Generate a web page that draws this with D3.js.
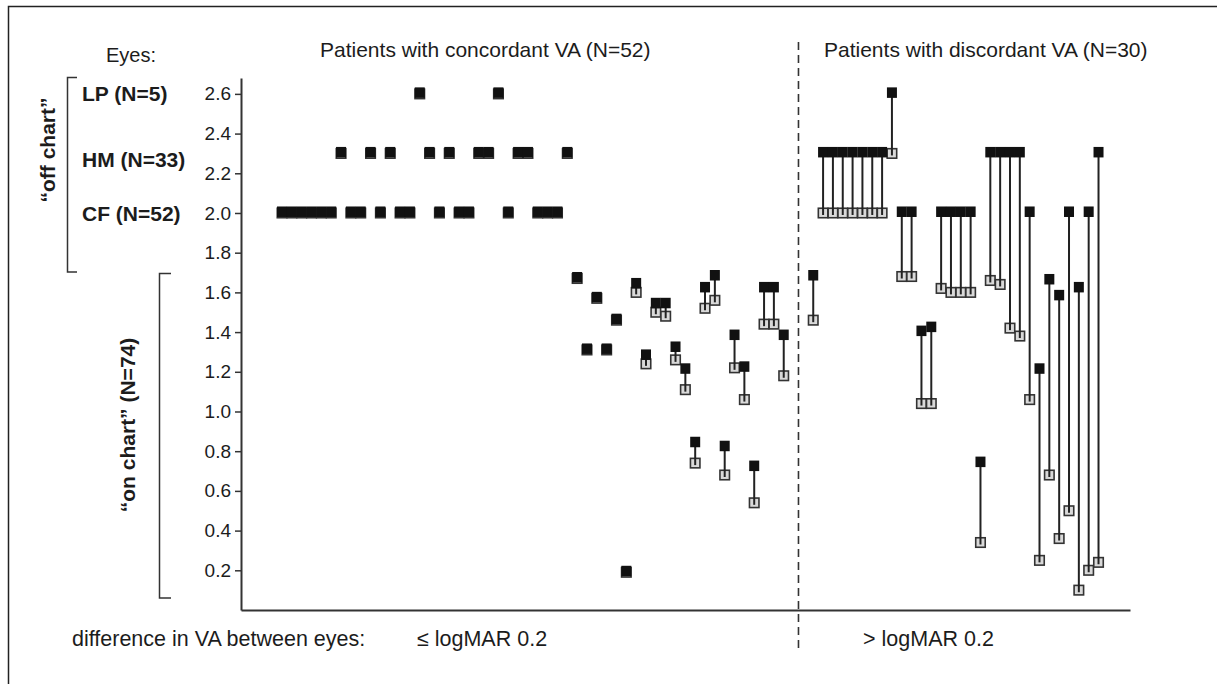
<!DOCTYPE html>
<html>
<head>
<meta charset="utf-8">
<script src="https://cdn.jsdelivr.net/npm/d3@7"></script>
<style>
  body { margin: 0; background: #fff; }
  svg { display: block; font-family: "Liberation Sans", Arial, sans-serif; }
</style>
</head>
<body>
<script>
// worse eye (black) and better eye (open) logMAR for each patient, left to right
const concordantWorse = [
    2.0, 2.0, 2.0, 2.0, 2.0, 2.0, 2.3, 2.0, 2.0, 2.3,
    2.0, 2.3, 2.0, 2.0, 2.6, 2.3, 2.0, 2.3, 2.0, 2.0,
    2.3, 2.3, 2.6, 2.0, 2.3, 2.3, 2.0, 2.0, 2.0, 2.3,
    1.67, 1.31, 1.57, 1.31, 1.46, 0.19, 1.64, 1.28, 1.54, 1.54,
    1.32, 1.21, 0.84, 1.62, 1.68, 0.82, 1.38, 1.22, 0.72, 1.62,
    1.62, 1.38
];
const concordantBetter = [
    2.0, 2.0, 2.0, 2.0, 2.0, 2.0, 2.3, 2.0, 2.0, 2.3,
    2.0, 2.3, 2.0, 2.0, 2.6, 2.3, 2.0, 2.3, 2.0, 2.0,
    2.3, 2.3, 2.6, 2.0, 2.3, 2.3, 2.0, 2.0, 2.0, 2.3,
    1.67, 1.31, 1.57, 1.31, 1.46, 0.19, 1.60, 1.24, 1.50, 1.48,
    1.26, 1.11, 0.74, 1.52, 1.56, 0.68, 1.22, 1.06, 0.54, 1.44,
    1.44, 1.18
];
const discordantWorse = [
    1.68, 2.3, 2.3, 2.3, 2.3, 2.3, 2.3, 2.3, 2.6, 2.0,
    2.0, 1.40, 1.42, 2.0, 2.0, 2.0, 2.0, 0.74, 2.3, 2.3,
    2.3, 2.3, 2.0, 1.21, 1.66, 1.58, 2.0, 1.62, 2.0, 2.3
];
const discordantBetter = [
    1.46, 2.0, 2.0, 2.0, 2.0, 2.0, 2.0, 2.0, 2.3, 1.68,
    1.68, 1.04, 1.04, 1.62, 1.60, 1.60, 1.60, 0.34, 1.66, 1.64,
    1.42, 1.38, 1.06, 0.25, 0.68, 0.36, 0.50, 0.10, 0.20, 0.24
];
const yTicks = [0.2, 0.4, 0.6, 0.8, 1.0, 1.2, 1.4, 1.6, 1.8, 2.0, 2.2, 2.4, 2.6];
const offChartRows = [
    { label: "LP (N=5)", value: 2.6 },
    { label: "HM (N=33)", value: 2.3 },
    { label: "CF (N=52)", value: 2.0 }
];
const gapSlots = 2;

const width = 1217, height = 684;
const ink = "#1c1c1c";

const svg = d3.select("body").append("svg")
    .attr("width", width)
    .attr("height", height);

// one slot per patient, two empty slots between the groups
const x = d3.scaleLinear().domain([-4.17, 86.2]).range([241, 1130]);
const y = d3.scaleLinear().domain([0, 2.68]).range([610, 78]);

const patients = [];
concordantWorse.forEach((w, i) => patients.push({ slot: i, worse: w, better: concordantBetter[i] }));
const discStart = concordantWorse.length + gapSlots;
discordantWorse.forEach((w, i) => patients.push({ slot: discStart + i, worse: w, better: discordantBetter[i] }));
const divider = concordantWorse.length + gapSlots / 2 - 0.5;

// page frame
svg.append("path")
    .attr("d", "M8.5,684V6.5H1217")
    .attr("fill", "none")
    .attr("stroke", "#222")
    .attr("stroke-width", 1.5);

// axes
const yAxis = svg.append("g")
    .attr("transform", "translate(" + x(x.domain()[0]) + ",0)")
    .call(d3.axisLeft(y).tickValues(yTicks).tickSize(6).tickPadding(4)
        .tickSizeOuter(0).tickFormat(d3.format(".1f")));
yAxis.select(".domain").attr("stroke", "#333").attr("stroke-width", 2);
yAxis.selectAll(".tick line").attr("stroke", "#333").attr("stroke-width", 1.5);
yAxis.selectAll(".tick text")
    .attr("fill", ink)
    .style("font-size", "19px")
    .style("font-family", "Liberation Sans, Arial, sans-serif");

const xAxis = svg.append("g")
    .attr("transform", "translate(0," + y(0) + ")")
    .call(d3.axisBottom(x).tickValues([]).tickSizeOuter(0));
xAxis.select(".domain").attr("stroke", "#333").attr("stroke-width", 2);

// dashed divider
svg.append("line")
    .attr("x1", x(divider)).attr("x2", x(divider))
    .attr("y1", 42).attr("y2", 648)
    .attr("stroke", "#333")
    .attr("stroke-width", 1.6)
    .attr("stroke-dasharray", "8,5");

// better eye (open squares)
const sq = 9.5;
svg.selectAll(".better")
    .data(patients)
    .enter().append("rect")
    .attr("class", "better")
    .attr("x", d => x(d.slot) - sq / 2)
    .attr("y", d => y(d.better) - sq / 2)
    .attr("width", sq)
    .attr("height", sq)
    .attr("fill", "#d9d9d9")
    .attr("stroke", "#333")
    .attr("stroke-width", 1.6);

// connecting lines
svg.selectAll(".link")
    .data(patients.filter(d => d.worse !== d.better))
    .enter().append("line")
    .attr("class", "link")
    .attr("x1", d => x(d.slot))
    .attr("x2", d => x(d.slot))
    .attr("y1", d => y(d.worse))
    .attr("y2", d => y(d.better) + 2)
    .attr("stroke", "#222")
    .attr("stroke-width", 2);

// worse eye (black squares), sitting a little high so the open one peeks below
svg.selectAll(".worse")
    .data(patients)
    .enter().append("rect")
    .attr("class", "worse")
    .attr("x", d => x(d.slot) - 5)
    .attr("y", d => y(d.worse) - 6.5)
    .attr("width", 10)
    .attr("height", 10.5)
    .attr("fill", "#111");

// headers
svg.append("text")
    .attr("x", 106).attr("y", 62)
    .attr("font-size", "20px").attr("fill", ink)
    .text("Eyes:");

svg.append("text")
    .attr("x", 320).attr("y", 57)
    .attr("font-size", "21px").attr("fill", ink)
    .text("Patients with concordant VA (N=52)");

svg.append("text")
    .attr("x", 824).attr("y", 57)
    .attr("font-size", "21px").attr("fill", ink)
    .text("Patients with discordant VA (N=30)");

// off chart row labels (HM label sits a little below its row)
svg.selectAll(".row-label")
    .data(offChartRows)
    .enter().append("text")
    .attr("class", "row-label")
    .attr("x", 82)
    .attr("y", (d, i) => y(d.value) + (i === 1 ? 6 : 0))
    .attr("dy", "0.36em")
    .attr("font-size", "21px")
    .attr("font-weight", "bold")
    .attr("fill", ink)
    .text(d => d.label);

// brackets
svg.append("path")
    .attr("d", "M77,77.5H67.5V272H77")
    .attr("fill", "none").attr("stroke", "#333").attr("stroke-width", 1.5);
svg.append("path")
    .attr("d", "M171,273.5H159.5V598H171")
    .attr("fill", "none").attr("stroke", "#333").attr("stroke-width", 1.5);

svg.append("text")
    .attr("transform", "translate(55,150)rotate(-90)")
    .attr("text-anchor", "middle")
    .attr("font-size", "21px").attr("font-weight", "bold").attr("fill", ink)
    .text("\u201coff chart\u201d");

svg.append("text")
    .attr("transform", "translate(135,425)rotate(-90)")
    .attr("text-anchor", "middle")
    .attr("font-size", "21px").attr("font-weight", "bold").attr("fill", ink)
    .text("\u201con chart\u201d (N=74)");

// bottom labels
svg.append("text")
    .attr("x", 72).attr("y", 646)
    .attr("font-size", "21.5px").attr("fill", ink)
    .text("difference in VA between eyes:");

svg.append("text")
    .attr("x", 417).attr("y", 646)
    .attr("font-size", "21.5px").attr("fill", ink)
    .text("\u2264 logMAR 0.2");

svg.append("text")
    .attr("x", 863).attr("y", 646)
    .attr("font-size", "21.5px").attr("fill", ink)
    .text("> logMAR 0.2");
</script>
</body>
</html>
